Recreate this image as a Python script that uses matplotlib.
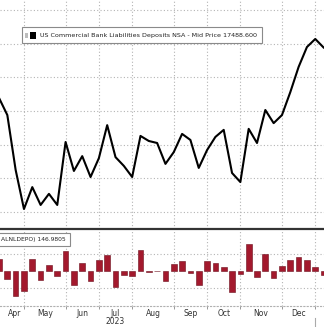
import numpy as np
import matplotlib
matplotlib.use("Agg")
import matplotlib.pyplot as plt
from matplotlib.patches import Rectangle
import matplotlib.transforms as mtransforms

# weekly observations, Apr 12 2023 .. Jan 10 2024 (index = week number)
deposits = [17339, 17288, 17125, 17009, 17074, 17021, 17054, 17021, 17208, 17122,
            17166, 17104, 17160, 17258, 17163, 17137, 17104, 17226, 17211, 17205,
            17143, 17178, 17232, 17214, 17131, 17184, 17223, 17244, 17116, 17089,
            17247, 17205, 17303, 17264, 17288, 17356, 17431, 17490, 17514, 17488.6]

# lower panel (ALNLDEPO) weekly changes
changes = [34, -24, -74, -60, 34, -27, 17, -16, 58, -42,
           23, -30, 31, 46, -48, -13, -16, 61, -4, -2,
           -30, 20, 29, -7, -42, 29, 23, 11, -63, -10,
           79, -19, 49, -21, 14, 31, 40, 31, 11, -13]

# first weekly obs of each month (week index)
month_starts = [3, 8, 12, 16, 21, 25, 29, 34, 38]
month_labels = ["Apr", "May", "Jun", "Jul", "Aug", "Sep", "Oct", "Nov", "Dec"]
month_label_pos = [1.9, 5.5, 10, 14, 18.5, 23, 27, 31.5, 36]
year_label = "2023"

main_grid = [17000, 17100, 17200, 17300, 17400, 17500, 17600]
lower_grid = [-50, 50]

x = np.arange(len(deposits))
xlim = (0.12, 39.05)
grid_kw = dict(color="#b4b4b4", linestyle=(0, (1, 2)), linewidth=0.8)

fig = plt.figure(figsize=(3.24, 3.27), dpi=100)
ax1 = fig.add_axes([0, 0.2997, 1, 0.7003])
ax2 = fig.add_axes([0, 0.0642, 1, 0.2294])

# ---- main panel
ax1.plot(x, deposits, color="black", linewidth=1.5, zorder=3)
ax1.set_xlim(*xlim)
ax1.set_ylim(16949.6, 17629.7)
ax1.set_xticks(month_starts)
ax1.set_yticks(main_grid)
ax1.tick_params(length=0, labelbottom=False, labelleft=False)
ax1.grid(True, **grid_kw)
for s in ["top", "left", "right"]:
    ax1.spines[s].set_visible(False)
ax1.spines["bottom"].set_color("#333333")
ax1.spines["bottom"].set_linewidth(1.6)

ax1.add_patch(Rectangle((0.068, 0.812), 0.741, 0.07, transform=ax1.transAxes,
                        facecolor="white", edgecolor="#8a8a8a", linewidth=0.8, zorder=4))
ax1.add_patch(Rectangle((0.077, 0.836), 0.010, 0.02, transform=ax1.transAxes,
                        facecolor="#bdbdbd", edgecolor="none", zorder=5))
ax1.add_patch(Rectangle((0.092, 0.831), 0.02, 0.031, transform=ax1.transAxes,
                        facecolor="black", edgecolor="none", zorder=5))
ax1.text(0.122, 0.847, "US Commercial Bank Liabilities Deposits NSA - Mid Price 17488.600",
         transform=ax1.transAxes, fontsize=4.6, va="center", ha="left", color="#222222", zorder=6)

# ---- lower panel
ax2.bar(x, changes, width=0.68, color="#a3192d", edgecolor="#6d0e1c", linewidth=0.4, zorder=3)
ax2.set_xlim(*xlim)
ax2.set_ylim(-103.8, 116.7)
ax2.set_xticks(month_starts)
ax2.set_yticks(lower_grid)
ax2.tick_params(axis="y", length=0, labelleft=False)
ax2.tick_params(axis="x", length=2, width=0.6, color="#888888", labelbottom=False)
ax2.grid(True, **grid_kw)
for s in ["top", "left", "right"]:
    ax2.spines[s].set_visible(False)
ax2.spines["bottom"].set_color("#b0b0b0")
ax2.spines["bottom"].set_linestyle((0, (1, 2)))
ax2.spines["bottom"].set_linewidth(0.8)

ax2.add_patch(Rectangle((-0.01, 0.80), 0.226, 0.173, transform=ax2.transAxes,
                        facecolor="white", edgecolor="#8a8a8a", linewidth=0.8, zorder=4))
ax2.text(0.004, 0.887, "ALNLDEPO) 146.9805", transform=ax2.transAxes, fontsize=4.3,
         va="center", ha="left", color="#222222", zorder=5)

trans = mtransforms.blended_transform_factory(ax2.transData, fig.transFigure)
for pos, lab in zip(month_label_pos, month_labels):
    ax2.text(pos, 1 - 314 / 327, lab, transform=trans, fontsize=5.5,
             ha="center", va="center", color="#333333")
ax2.text(14, 1 - 322 / 327, year_label, transform=trans, fontsize=5.5,
         ha="center", va="center", color="#333333")
ax2.plot([38, 38], [1 - 318 / 327, 0], transform=trans, color="#aaaaaa",
         linewidth=0.8, clip_on=False)

fig.savefig("out.png", dpi=100)
